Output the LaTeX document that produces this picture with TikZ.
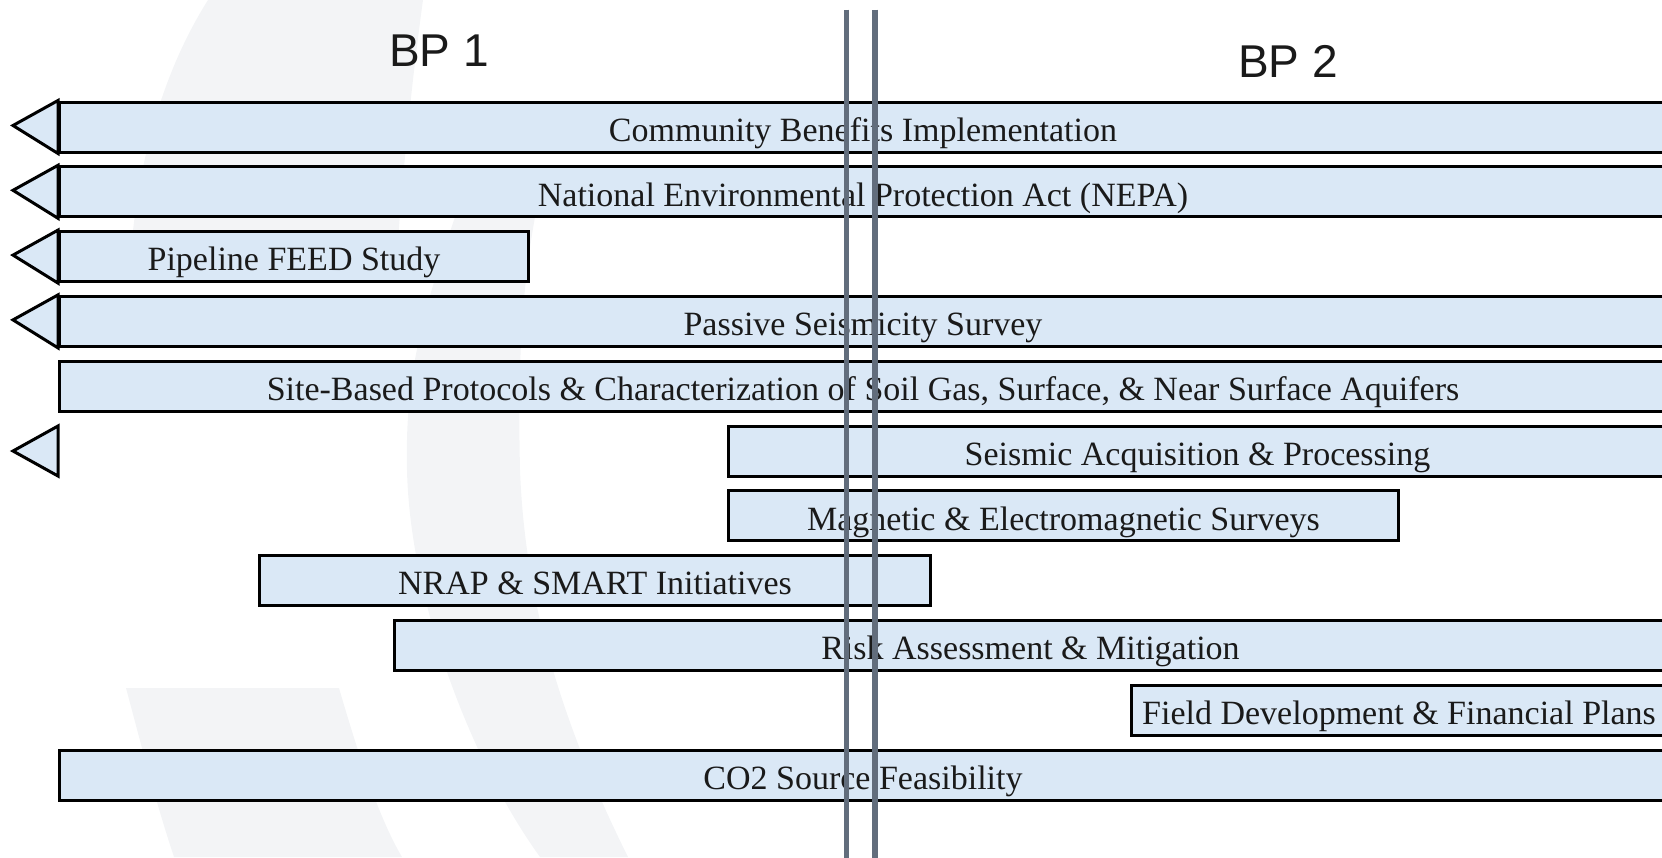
\documentclass[tikz,border=0pt]{standalone}
\usepackage{fontspec}
\setmainfont{Liberation Serif}
\newfontfamily\bpfont{Liberation Sans}
\usetikzlibrary{positioning}
\definecolor{barfill}{RGB}{218,232,246}
\definecolor{divider}{RGB}{98,109,124}
\definecolor{wmgray}{RGB}{243,244,246}
\definecolor{textgray}{RGB}{26,26,26}
\tikzstyle{bar} = [rectangle, anchor=west, draw=black, line width=3pt, fill=barfill, minimum height=50pt, inner sep=0pt, text height=30pt, text depth=1.5pt, font=\fontsize{34}{38}\selectfont, text=textgray]
\tikzstyle{tri} = [draw=black, line width=3pt, fill=barfill, line join=miter]
\tikzstyle{period} = [font=\bpfont\fontsize{46}{52}\selectfont, text=textgray]
\tikzstyle{divline} = [draw=divider, line width=5.5pt]
\tikzstyle{swoosh} = [fill=wmgray, draw=none]

\begin{document}
\begin{tikzpicture}[x=1pt, y=-1pt]
		\useasboundingbox (0,0) rectangle (1662,857);
		\clip (0,0) rectangle (1662,857);

		\fill[swoosh] (208,0) -- (423,0) .. controls (412,80) and (404,160) .. (398,240) -- (132,240) .. controls (142,140) and (170,60) .. (208,0) -- cycle;
		\fill[swoosh] (455,217) .. controls (420,320) and (405,380) .. (407,470) .. controls (410,600) and (470,760) .. (540,857) -- (628,857) .. controls (560,720) and (525,600) .. (520,470) .. controls (518,380) and (520,300) .. (535,217) -- cycle;
		\fill[swoosh] (126,688) -- (339,688) .. controls (360,760) and (380,820) .. (402,857) -- (174,857) .. controls (155,800) and (140,740) .. (126,688) -- cycle;

		\node (cbi)  [bar, minimum width=1607pt] at (58,127)   {Community Benefits Implementation};
		\node (nepa) [bar, minimum width=1607pt] at (58,191.8) {National Environmental Protection Act (NEPA)};
		\node (feed) [bar, minimum width=469pt]  at (58,256.6) {Pipeline FEED Study};
		\node (pss)  [bar, minimum width=1607pt] at (58,321.4) {Passive Seismicity Survey};
		\node (sbp)  [bar, minimum width=1607pt] at (58,386.2) {Site-Based Protocols \& Characterization of Soil Gas, Surface, \& Near Surface Aquifers};
		\node (sap)  [bar, minimum width=938pt]  at (727,451)  {Seismic Acquisition \& Processing};
		\node (mes)  [bar, minimum width=670pt]  at (727,515.8) {Magnetic \& Electromagnetic Surveys};
		\node (nrap) [bar, minimum width=671pt]  at (258,580.6) {NRAP \& SMART Initiatives};
		\node (ram)  [bar, minimum width=1272pt] at (393,645.4) {Risk Assessment \& Mitigation};
		\node (fdp)  [bar, minimum width=535pt]  at (1130,710.2) {Field Development \& Financial Plans};
		\node (co2)  [bar, minimum width=1607pt] at (58,775)   {CO2 Source Feasibility};

		\draw [tri] (cbi.north west) -- ++(-45,25) -- (cbi.south west) -- cycle;
		\draw [tri] (nepa.north west) -- ++(-45,25) -- (nepa.south west) -- cycle;
		\draw [tri] (feed.north west) -- ++(-45,25) -- (feed.south west) -- cycle;
		\draw [tri] (pss.north west) -- ++(-45,25) -- (pss.south west) -- cycle;
		\draw [tri] (58,426) -- ++(-45,25) -- ++(45,25) -- cycle;

		\coordinate (d1top) at (846.5,9.5);
		\coordinate (d1bot) at (846.5,860);
		\coordinate (d2top) at (875,9.5);
		\coordinate (d2bot) at (875,860);
		\draw [divline] (d1top) -- (d1bot);
		\draw [divline] (d2top) -- (d2bot);

		\node (bp1) [period] at (439,51) {BP 1};
		\node (bp2) [period] at (1288,61) {BP 2};
\end{tikzpicture}
\end{document}
